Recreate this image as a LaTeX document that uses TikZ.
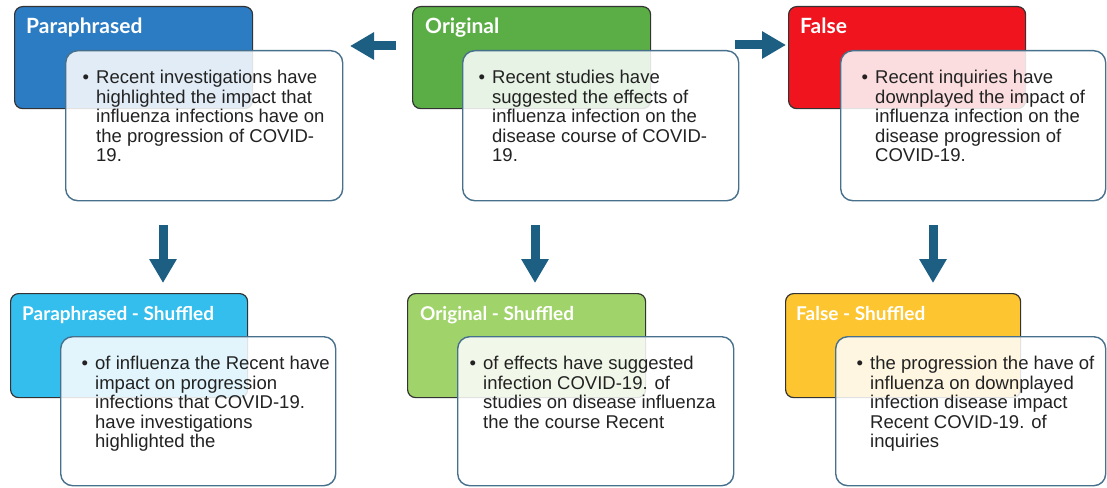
\documentclass[tikz,border=0pt]{standalone}
\usepackage{fontspec}
\setmainfont{Liberation Sans}
\newfontfamily\titlefont{Lato}
\usetikzlibrary{arrows.meta}
\definecolor{cP}{HTML}{2C7CC4}
\definecolor{cO}{HTML}{5AAE45}
\definecolor{cF}{HTML}{F0141E}
\definecolor{cPS}{HTML}{34BEEE}
\definecolor{cOS}{HTML}{A0D46A}
\definecolor{cFS}{HTML}{FDC630}
\definecolor{arrowc}{HTML}{1D5F83}
\definecolor{wborder}{HTML}{47708C}
\definecolor{txt}{HTML}{222222}
\tikzset{
  colbox/.style={draw=black!80, line width=1.2pt, rounded corners=8pt, anchor=north west, inner sep=0pt},
  whitebox/.style={draw=wborder, line width=1.4pt, fill=white, fill opacity=0.86, draw opacity=1, rounded corners=12pt, anchor=north west, inner sep=0pt},
  titleA/.style={anchor=base west, inner sep=0pt, text=white, font=\titlefont\bfseries\fontsize{21}{24}\selectfont},
  titleB/.style={anchor=base west, inner sep=0pt, text=white, font=\titlefont\bfseries\fontsize{19}{22}\selectfont},
  bodytext/.style={anchor=north west, inner sep=0pt, align=left, text=txt, font=\fontsize{18.5}{19.5}\selectfont},
  bigarrow/.style={draw=arrowc, line width=9pt, -{Triangle[length=24pt,width=26pt]}}
}
\newcommand{\bul}{\llap{\textbullet\hspace{7pt}}}
\begin{document}
\begin{tikzpicture}[x=1pt,y=-1pt]
\path[use as bounding box] (0,0) rectangle (1107,487);
% top row
\node[colbox, fill=cP, minimum width=238pt, minimum height=102pt] (pc) at (14,6) {};
\node[titleA] (pt) at (26,34) {Paraphrased};
\node[whitebox, minimum width=277pt, minimum height=150pt] (pw) at (65,50) {};
\node[bodytext] (px) at (96,70) {\bul Recent investigations have\\highlighted the impact that\\influenza infections have on\\the progression of COVID-\\19.};

\node[colbox, fill=cO, minimum width=238pt, minimum height=102pt] (oc) at (412,6) {};
\node[titleA] (ot) at (425,34) {Original};
\node[whitebox, minimum width=276pt, minimum height=150pt] (ow) at (462,50) {};
\node[bodytext] (ox) at (492,70) {\bul Recent studies have\\suggested the effects of\\influenza infection on the\\disease course of COVID-\\19.};

\node[colbox, fill=cF, minimum width=237pt, minimum height=102pt] (fc) at (788,6) {};
\node[titleA] (ft) at (800,34) {False};
\node[whitebox, minimum width=265pt, minimum height=150pt] (fw) at (840,50) {};
\node[bodytext] (fx) at (875,70) {\bul Recent inquiries have\\downplayed the impact of\\influenza infection on the\\disease progression of\\COVID-19.};

% bottom row
\node[colbox, fill=cPS, minimum width=237pt, minimum height=104pt] (psc) at (10,293) {};
\node[titleB] (pst) at (22,320) {Paraphrased - Shuffled};
\node[whitebox, minimum width=275pt, minimum height=149pt] (psw) at (60,336) {};
\node[bodytext] (psx) at (95,356) {\bul of influenza the Recent have\\impact on progression\\infections that COVID-19.\\have investigations\\highlighted the};

\node[colbox, fill=cOS, minimum width=238pt, minimum height=104pt] (osc) at (407,293) {};
\node[titleB] (ost) at (420,320) {Original - Shuffled};
\node[whitebox, minimum width=276pt, minimum height=149pt] (osw) at (457,336) {};
\node[bodytext] (osx) at (483,356) {\bul of effects have suggested\\infection COVID-19. of\\studies on disease influenza\\the the course Recent};

\node[colbox, fill=cFS, minimum width=235pt, minimum height=104pt] (fsc) at (785,293) {};
\node[titleB] (fst) at (796,320) {False - Shuffled};
\node[whitebox, minimum width=270pt, minimum height=149pt] (fsw) at (835,336) {};
\node[bodytext] (fsx) at (870,356) {\bul the progression the have of\\influenza on downplayed\\infection disease impact\\Recent COVID-19. of\\inquiries};

% arrows
\coordinate (a1s) at (396,46);
\coordinate (a1e) at (350,46);
\coordinate (a2s) at (735,45);
\coordinate (a2e) at (786,45);
\coordinate (d1s) at (163,225);
\coordinate (d1e) at (163,283);
\coordinate (d2s) at (535,225);
\coordinate (d2e) at (535,283);
\coordinate (d3s) at (933,225);
\coordinate (d3e) at (933,283);
\draw[bigarrow] (a1s) -- (a1e);
\draw[bigarrow] (a2s) -- (a2e);
\draw[bigarrow] (d1s) -- (d1e);
\draw[bigarrow] (d2s) -- (d2e);
\draw[bigarrow] (d3s) -- (d3e);
\end{tikzpicture}
\end{document}
